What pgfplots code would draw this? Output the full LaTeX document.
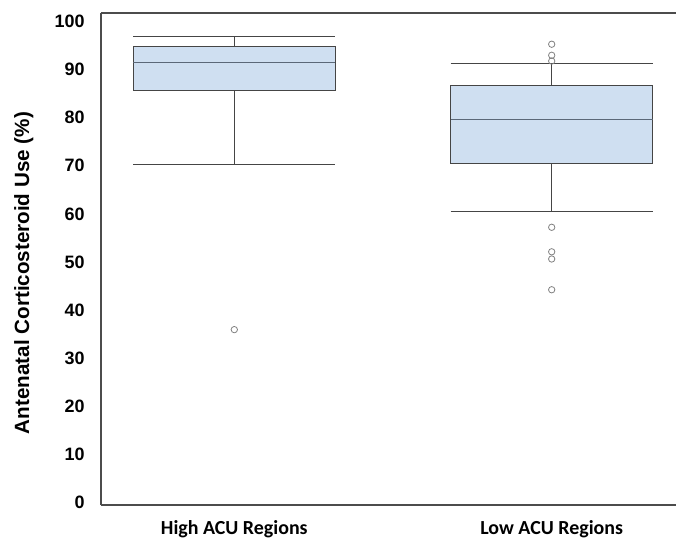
\documentclass[border=0pt]{standalone}
\usepackage{pgfplots}
\pgfplotsset{compat=1.18}
\usepackage{fontspec}
\setmainfont{Liberation Sans}
\newfontfamily\carlito{Carlito}
\definecolor{boxfill}{HTML}{CFDFF1}
\definecolor{boxline}{HTML}{454545}
\definecolor{medline}{HTML}{5B6878}
\begin{document}
\begin{tikzpicture}
\begin{axis}[
  name=ax,
  scale only axis,
  width=580bp, height=492bp,
  xmin=0.58, xmax=2.4074,
  ymin=-0.6, ymax=101.8,
  axis x line*=bottom, axis y line*=left,
  axis line style={draw=black!70, line width=1.2bp},
  ytick={0,10,...,100},
  xtick={1,2},
  xticklabels={High ACU Regions, Low ACU Regions},
  tick style={draw=none},
  /pgf/number format/assume math mode=true,
  yticklabel style={font=\fontsize{18}{18}\selectfont\bfseries, xshift=-13bp},
  xticklabel style={font=\carlito\fontsize{20}{20}\selectfont\bfseries, anchor=base, yshift=-29bp},
  ylabel={Antenatal Corticosteroid Use (\%)},
  ylabel style={font=\fontsize{20.7}{20.7}\selectfont\bfseries, at={(axis description cs:-0.1330,0.4715)}, anchor=center},
  clip=false,
]
% High ACU
\addplot[draw=boxline, fill=boxfill, line width=0.9bp] coordinates {(0.6815,85.6) (1.3185,85.6) (1.3185,94.9) (0.6815,94.9)} -- cycle;
\addplot[draw=medline, line width=0.9bp] coordinates {(0.6815,91.6) (1.3185,91.6)};
\addplot[draw=boxline, line width=0.9bp] coordinates {(1,85.6) (1,70.3)};
\addplot[draw=boxline, line width=0.9bp] coordinates {(0.6815,70.3) (1.3185,70.3)};
\addplot[draw=boxline, line width=0.9bp] coordinates {(1,94.9) (1,97.0)};
\addplot[draw=boxline, line width=0.9bp] coordinates {(0.6815,97.0) (1.3185,97.0)};
\addplot[only marks, mark=o, mark size=3.2pt, mark options={draw=gray, line width=0.8pt}] coordinates {(1,35.9)};
% Low ACU
\addplot[draw=boxline, fill=boxfill, line width=0.9bp] coordinates {(1.6815,70.5) (2.3185,70.5) (2.3185,86.7) (1.6815,86.7)} -- cycle;
\addplot[draw=medline, line width=0.9bp] coordinates {(1.6815,79.7) (2.3185,79.7)};
\addplot[draw=boxline, line width=0.9bp] coordinates {(2,70.5) (2,60.5)};
\addplot[draw=boxline, line width=0.9bp] coordinates {(1.6815,60.5) (2.3185,60.5)};
\addplot[draw=boxline, line width=0.9bp] coordinates {(2,86.7) (2,91.4)};
\addplot[draw=boxline, line width=0.9bp] coordinates {(1.6815,91.4) (2.3185,91.4)};
\addplot[only marks, mark=o, mark size=3.2pt, mark options={draw=gray, line width=0.8pt}] coordinates {(2,95.3) (2,93.0) (2,91.8) (2,57.2) (2,52.1) (2,50.6) (2,44.2)};
\addplot[black!70, line width=1.2bp] coordinates {(0.58,101.8) (2.4074,101.8)};
\end{axis}
\pgfresetboundingbox
\path ([xshift=-101bp,yshift=-36bp]ax.south west) rectangle ([xshift=-5bp,yshift=13bp]ax.north east);
\end{tikzpicture}
\end{document}
